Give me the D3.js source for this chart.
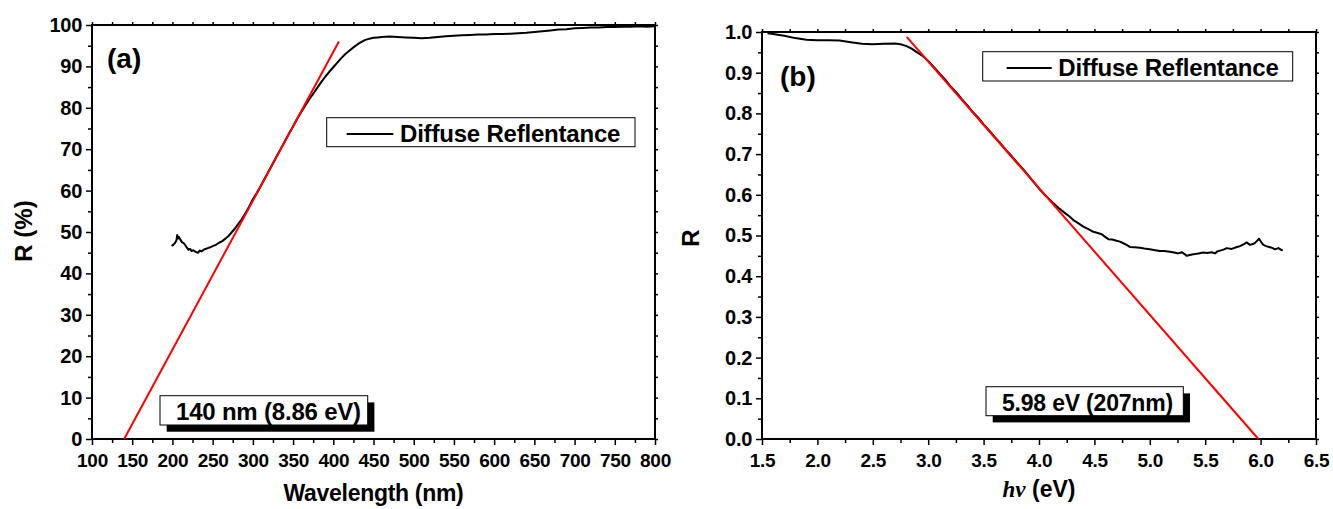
<!DOCTYPE html>
<html>
<head>
<meta charset="utf-8">
<script src="https://cdn.jsdelivr.net/npm/d3@7"></script>
<style>
  html, body { margin: 0; padding: 0; background: #fff; }
  svg text { font-family: "Liberation Sans", Arial, sans-serif; font-weight: bold; fill: #000; }
</style>
</head>
<body>
<svg id="chart" width="1333" height="509"></svg>
<script>
// Panel (a): diffuse reflectance vs wavelength
const wavelengthA = [199, 201, 203, 205, 206, 207, 208, 210, 212, 214, 216, 218, 220, 222, 224, 226, 228, 230, 232, 234, 236, 238, 241, 244, 247, 250, 254, 258, 262, 266, 270, 274, 278, 282, 286, 290, 295, 300, 305, 310, 315, 320, 325, 330, 335, 340, 345, 350, 355, 360, 365, 370, 375, 380, 385, 390, 395, 400, 405, 410, 415, 420, 425, 430, 435, 440, 445, 450, 455, 460, 470, 480, 490, 500, 510, 520, 530, 540, 550, 560, 570, 580, 590, 600, 610, 620, 630, 640, 650, 660, 670, 680, 690, 700, 710, 720, 730, 740, 750, 760, 770, 780, 790, 800];
const reflectanceA = [46.6, 46.9, 47.3, 48.0, 49.3, 48.4, 48.8, 48.1, 47.5, 47.3, 46.8, 46.2, 45.7, 45.9, 45.4, 45.6, 45.3, 45.1, 45.0, 45.5, 45.3, 45.6, 45.9, 46.1, 46.3, 46.6, 46.9, 47.4, 47.8, 48.4, 49.1, 50.0, 50.9, 52.0, 53.0, 54.3, 56.0, 57.9, 59.5, 61.2, 63.0, 64.8, 66.6, 68.4, 70.2, 72.0, 73.8, 75.5, 77.3, 78.9, 80.5, 82.0, 83.4, 84.8, 86.2, 87.5, 88.7, 89.8, 90.9, 92.0, 93.0, 93.8, 94.6, 95.3, 95.9, 96.4, 96.7, 96.9, 97.0, 97.1, 97.2, 97.1, 97.0, 96.9, 96.8, 96.9, 97.1, 97.3, 97.4, 97.5, 97.6, 97.7, 97.7, 97.8, 97.8, 97.9, 98.0, 98.1, 98.3, 98.5, 98.7, 98.9, 99.0, 99.2, 99.3, 99.4, 99.4, 99.5, 99.5, 99.6, 99.6, 99.7, 99.6, 99.7];
const fitWavelengthA = [140, 407];
const fitReflectanceA = [0, 96];
const xTicksA = [100, 150, 200, 250, 300, 350, 400, 450, 500, 550, 600, 650, 700, 750, 800];
const yTicksA = [0, 10, 20, 30, 40, 50, 60, 70, 80, 90, 100];

// Panel (b): reflectance vs photon energy
const energyB = [1.55, 1.60, 1.70, 1.80, 1.90, 2.00, 2.10, 2.20, 2.30, 2.40, 2.50, 2.60, 2.70, 2.75, 2.80, 2.85, 2.90, 2.95, 3.00, 3.05, 3.10, 3.15, 3.20, 3.25, 3.30, 3.35, 3.40, 3.45, 3.50, 3.55, 3.60, 3.65, 3.70, 3.75, 3.80, 3.85, 3.90, 3.95, 4.01, 4.07, 4.13, 4.18, 4.235, 4.27, 4.31, 4.35, 4.40, 4.45, 4.49, 4.53, 4.566, 4.60, 4.626, 4.66, 4.70, 4.73, 4.761, 4.79, 4.82, 4.86, 4.91, 4.95, 5.00, 5.05, 5.09, 5.13, 5.18, 5.22, 5.257, 5.288, 5.31, 5.333, 5.36, 5.393, 5.44, 5.483, 5.52, 5.558, 5.588, 5.61, 5.649, 5.67, 5.694, 5.739, 5.78, 5.814, 5.85, 5.874, 5.904, 5.93, 5.95, 5.986, 6.005, 6.025, 6.05, 6.085, 6.11, 6.13, 6.16, 6.19, 6.20];
const reflectanceB = [0.997, 0.995, 0.991, 0.985, 0.981, 0.980, 0.980, 0.979, 0.975, 0.971, 0.970, 0.971, 0.972, 0.970, 0.966, 0.959, 0.950, 0.941, 0.929, 0.914, 0.899, 0.884, 0.867, 0.853, 0.836, 0.821, 0.804, 0.790, 0.773, 0.758, 0.742, 0.727, 0.711, 0.696, 0.680, 0.665, 0.649, 0.632, 0.612, 0.595, 0.579, 0.567, 0.555, 0.548, 0.538, 0.531, 0.522, 0.515, 0.509, 0.506, 0.503, 0.496, 0.491, 0.490, 0.487, 0.485, 0.481, 0.477, 0.472, 0.471, 0.470, 0.468, 0.466, 0.464, 0.462, 0.462, 0.460, 0.458, 0.456, 0.459, 0.455, 0.450, 0.452, 0.454, 0.456, 0.458, 0.457, 0.459, 0.456, 0.461, 0.464, 0.466, 0.469, 0.467, 0.471, 0.474, 0.479, 0.483, 0.477, 0.479, 0.482, 0.492, 0.484, 0.477, 0.474, 0.471, 0.469, 0.466, 0.469, 0.464, 0.465];
const fitEnergyB = [2.806, 5.98];
const fitReflectanceB = [0.988, 0.0];
const xTicksB = [1.5, 2.0, 2.5, 3.0, 3.5, 4.0, 4.5, 5.0, 5.5, 6.0, 6.5];
const yTicksB = [0.0, 0.1, 0.2, 0.3, 0.4, 0.5, 0.6, 0.7, 0.8, 0.9, 1.0];

const legendLabel = "Diffuse Reflentance";

const svg = d3.select("#chart");

// midpoints between major ticks, used for the minor tick marks
function minors(ticks) {
  const out = [];
  for (let i = 0; i < ticks.length - 1; i++) out.push((ticks[i] + ticks[i + 1]) / 2);
  return out;
}

function drawPanel(cfg) {
  const { left, right, top, bottom } = cfg.box;
  const x = d3.scaleLinear().domain(cfg.xDomain).range([left, right]);
  const y = d3.scaleLinear().domain(cfg.yDomain).range([bottom, top]);
  const g = svg.append("g");

  const allX = cfg.xTicks.concat(minors(cfg.xTicks)).sort((a, b) => a - b);
  const allY = cfg.yTicks.concat(minors(cfg.yTicks)).sort((a, b) => a - b);

  // minor ticks (bottom / left)
  g.append("g").attr("transform", `translate(0,${bottom})`)
    .call(d3.axisBottom(x).tickValues(minors(cfg.xTicks)).tickSize(4).tickFormat(""))
    .call(a => a.select(".domain").remove());
  g.append("g").attr("transform", `translate(${left},0)`)
    .call(d3.axisLeft(y).tickValues(minors(cfg.yTicks)).tickSize(4).tickFormat(""))
    .call(a => a.select(".domain").remove());

  // major ticks with labels
  const xAxis = g.append("g").attr("transform", `translate(0,${bottom})`)
    .call(d3.axisBottom(x).tickValues(cfg.xTicks).tickSize(6).tickSizeOuter(0).tickPadding(9).tickFormat(cfg.xFormat));
  xAxis.select(".domain").remove();
  xAxis.selectAll("text").attr("font-size", 19).attr("letter-spacing", "-0.3px")
    .style("font-family", "'Liberation Sans', Arial, sans-serif").style("font-weight", "bold");

  const yAxis = g.append("g").attr("transform", `translate(${left},0)`)
    .call(d3.axisLeft(y).tickValues(cfg.yTicks).tickSize(6).tickSizeOuter(0).tickPadding(4).tickFormat(cfg.yFormat));
  yAxis.select(".domain").remove();
  yAxis.selectAll("text").attr("font-size", 20).attr("letter-spacing", "-0.3px")
    .style("font-family", "'Liberation Sans', Arial, sans-serif").style("font-weight", "bold");

  // mirrored small ticks on top / right
  g.append("g").attr("transform", `translate(0,${top})`)
    .call(d3.axisTop(x).tickValues(allX).tickSize(3).tickFormat(""))
    .call(a => a.select(".domain").remove());
  g.append("g").attr("transform", `translate(${right},0)`)
    .call(d3.axisRight(y).tickValues(allY).tickSize(3).tickFormat(""))
    .call(a => a.select(".domain").remove());

  g.selectAll(".tick line").attr("stroke", "#000").attr("stroke-width", 1.5);

  // frame
  g.append("rect")
    .attr("x", left).attr("y", top)
    .attr("width", right - left).attr("height", bottom - top)
    .attr("fill", "none").attr("stroke", "#000").attr("stroke-width", 2);

  // measured curve
  const pts = cfg.xs.map((v, i) => [v, cfg.ys[i]]);
  g.append("path")
    .datum(pts)
    .attr("d", d3.line().x(d => x(d[0])).y(d => y(d[1])))
    .attr("fill", "none").attr("stroke", "#000").attr("stroke-width", 2)
    .attr("stroke-linejoin", "round");

  // linear extrapolation
  const fit = cfg.fitX.map((v, i) => [v, cfg.fitY[i]]);
  g.append("path")
    .datum(fit)
    .attr("d", d3.line().x(d => x(d[0])).y(d => y(d[1])))
    .attr("fill", "none").attr("stroke", "#ff0000").attr("stroke-width", 2);

  // legend
  const L = cfg.legend;
  g.append("rect").attr("x", L.x).attr("y", L.y).attr("width", L.w).attr("height", L.h)
    .attr("fill", "#fff").attr("stroke", "#000").attr("stroke-width", 1);
  g.append("line").attr("x1", L.lineX1).attr("x2", L.lineX2).attr("y1", L.lineY).attr("y2", L.lineY)
    .attr("stroke", "#000").attr("stroke-width", 2);
  g.append("text").attr("x", L.textX).attr("y", L.textY)
    .attr("font-size", 24).attr("letter-spacing", "-0.2px").text(legendLabel);

  // value box with drop shadow
  const B = cfg.valueBox;
  g.append("rect").attr("x", B.x + 6.7).attr("y", B.y + 6.7).attr("width", B.w).attr("height", B.h)
    .attr("fill", "#000");
  g.append("rect").attr("x", B.x).attr("y", B.y).attr("width", B.w).attr("height", B.h)
    .attr("fill", "#fff").attr("stroke", "#000").attr("stroke-width", 1);
  g.append("text").attr("x", B.x + 16).attr("y", B.textY)
    .attr("font-size", B.fs).attr("letter-spacing", "-0.2px").text(B.label);

  // panel tag
  g.append("text").attr("x", cfg.tag.x).attr("y", cfg.tag.y)
    .attr("font-size", 28).text(cfg.tag.text);

  return { g, x, y };
}

// (a)
const pa = drawPanel({
  box: { left: 92, right: 655, top: 25, bottom: 439 },
  xDomain: [100, 800], yDomain: [0, 100],
  xTicks: xTicksA, yTicks: yTicksA,
  xFormat: d3.format("d"), yFormat: d3.format("d"),
  xs: wavelengthA, ys: reflectanceA,
  fitX: fitWavelengthA, fitY: fitReflectanceA,
  legend: { x: 326.7, y: 117.7, w: 308.3, h: 29, lineX1: 346.7, lineX2: 393.3, lineY: 134, textX: 400, textY: 142 },
  valueBox: { x: 160, y: 395.7, w: 207.7, h: 29.3, textY: 420, fs: 24, label: "140 nm (8.86 eV)" },
  tag: { x: 107, y: 68, text: "(a)" }
});
pa.g.append("text")
  .attr("x", 373.5).attr("y", 501).attr("text-anchor", "middle")
  .attr("font-size", 23).attr("letter-spacing", "-0.3px").text("Wavelength (nm)");
pa.g.append("text")
  .attr("transform", "translate(32,231) rotate(-90)").attr("text-anchor", "middle")
  .attr("font-size", 24).text("R (%)");

// (b)
const pb = drawPanel({
  box: { left: 762, right: 1316, top: 32, bottom: 439 },
  xDomain: [1.5, 6.5], yDomain: [0, 1],
  xTicks: xTicksB, yTicks: yTicksB,
  xFormat: d3.format(".1f"), yFormat: d3.format(".1f"),
  xs: energyB, ys: reflectanceB,
  fitX: fitEnergyB, fitY: fitReflectanceB,
  legend: { x: 982.7, y: 51.7, w: 310, h: 29.3, lineX1: 1006.7, lineX2: 1051.7, lineY: 68, textX: 1058.3, textY: 76 },
  valueBox: { x: 986, y: 386.7, w: 197.3, h: 29, textY: 411, fs: 23, label: "5.98 eV (207nm)" },
  tag: { x: 780, y: 86, text: "(b)" }
});
const hv = pb.g.append("text")
  .attr("x", 1039).attr("y", 497).attr("text-anchor", "middle").attr("font-size", 23);
hv.append("tspan").style("font-family", "'Liberation Serif', 'Times New Roman', serif")
  .style("font-style", "italic").text("hν");
hv.append("tspan").text(" (eV)");
pb.g.append("text")
  .attr("transform", "translate(699,238) rotate(-90)").attr("text-anchor", "middle")
  .attr("font-size", 24).text("R");
</script>
</body>
</html>
